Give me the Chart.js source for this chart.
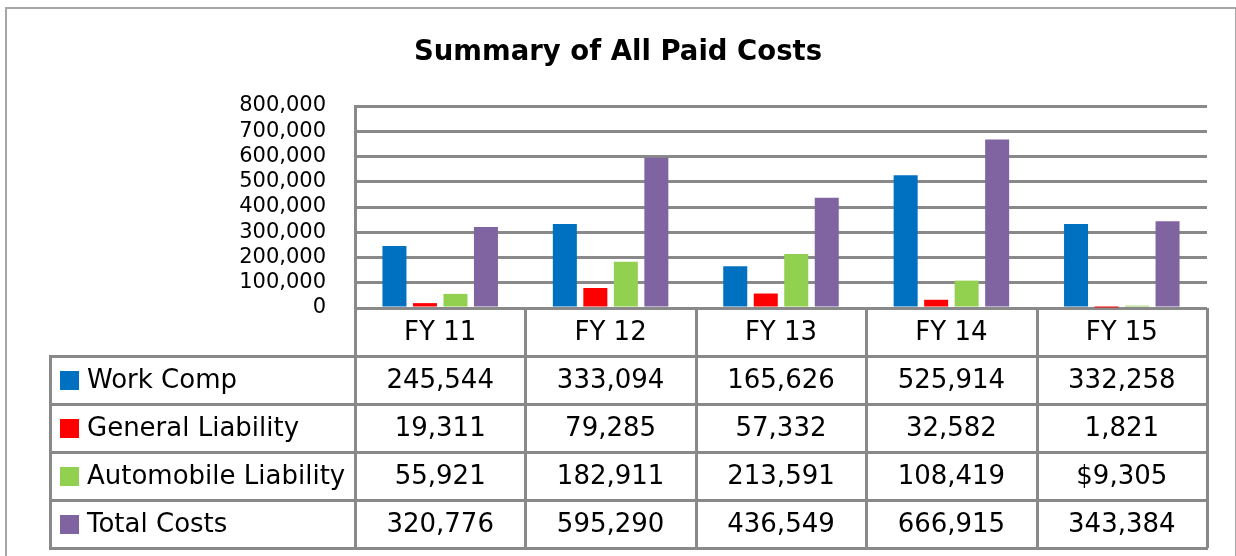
<!DOCTYPE html>
<html>
<head>
<meta charset="utf-8">
<script src="https://cdn.jsdelivr.net/npm/chart.js@4"></script>
<style>
    html, body { margin: 0; padding: 0; background: #fff; }
    #wrap { position: relative; width: 1236px; height: 556px; overflow: hidden; }
    #frame { position: absolute; left: 5px; top: 7px; width: 1228px; height: 600px; border: 2px solid #a6a6a6; pointer-events: none; }
    canvas { position: absolute; left: 0; top: 0; }
</style>
</head>
<body>
<div id="wrap">
    <canvas id="costChart" width="1236" height="556"></canvas>
    <div id="frame"></div>
</div>
<script>
const categories = ['FY 11', 'FY 12', 'FY 13', 'FY 14', 'FY 15'];
const seriesNames = ['Work Comp', 'General Liability', 'Automobile Liability', 'Total Costs'];
const workComp = [245544, 333094, 165626, 525914, 332258];
const generalLiability = [19311, 79285, 57332, 32582, 1821];
const automobileLiability = [55921, 182911, 213591, 108419, 9305];
const totalCosts = [320776, 595290, 436549, 666915, 343384];
const yTicks = [0, 100000, 200000, 300000, 400000, 500000, 600000, 700000, 800000];
// the one table cell that the source shows with a dollar sign
const dollarCells = [[2, 4]];

const seriesColors = ['#0070C0', '#FF0000', '#92D050', '#8064A2'];
const GRID = '#898989';
const FONT = '"DejaVu Sans", "Open Sans", sans-serif';

function fmt(v) {
    return v.toLocaleString('en-US');
}

// draws the Excel-style data table under the plot, using the x scale for the columns
const dataTablePlugin = {
    id: 'dataTable',
    afterDraw(chart) {
        const ctx = chart.ctx;
        const xs = chart.scales.x;
        const area = chart.chartArea;
        const n = categories.length;
        const colW = (xs.right - xs.left) / n;
        const rowH = 48;
        const top = area.bottom;
        const headBottom = top + rowH;
        const labelLeft = 50;
        const bottom = headBottom + rowH * chart.data.datasets.length;

        ctx.save();
        ctx.strokeStyle = GRID;
        ctx.lineWidth = 3;
        ctx.beginPath();
        for (let k = 0; k <= n; k++) {
            const x = Math.round(xs.left + k * colW) + 0.5;
            ctx.moveTo(x, top);
            ctx.lineTo(x, bottom);
        }
        ctx.moveTo(labelLeft + 0.5, headBottom);
        ctx.lineTo(labelLeft + 0.5, bottom);
        for (let r = 0; r <= chart.data.datasets.length; r++) {
            const y = headBottom + r * rowH + 0.5;
            ctx.moveTo(labelLeft - 1, y);
            ctx.lineTo(xs.right + 1, y);
        }
        ctx.stroke();

        ctx.fillStyle = '#000';
        ctx.font = '26px ' + FONT;
        ctx.textAlign = 'center';
        ctx.textBaseline = 'middle';
        categories.forEach((c, i) => {
            ctx.fillText(c, xs.getPixelForTick(i), top + rowH / 2 + 1);
        });

        chart.data.datasets.forEach((ds, r) => {
            const cy = headBottom + r * rowH + rowH / 2 + 1;
            ctx.fillStyle = ds.backgroundColor;
            ctx.fillRect(60, Math.round(cy - 10), 19, 19);
            ctx.fillStyle = '#000';
            ctx.textAlign = 'left';
            ctx.fillText(ds.label, 87, cy);
            ctx.textAlign = 'center';
            ds.data.forEach((v, i) => {
                const dollar = dollarCells.some(d => d[0] === r && d[1] === i);
                ctx.fillText((dollar ? '$' : '') + fmt(v), xs.getPixelForTick(i), cy);
            });
        });
        ctx.restore();
    }
};

const seriesData = [workComp, generalLiability, automobileLiability, totalCosts];

new Chart(document.getElementById('costChart'), {
    type: 'bar',
    data: {
        labels: categories,
        datasets: seriesNames.map((name, i) => ({
            label: name,
            data: seriesData[i],
            backgroundColor: seriesColors[i],
            borderWidth: 0,
            categoryPercentage: 0.716,
            barPercentage: 0.787
        }))
    },
    options: {
        responsive: false,
        animation: false,
        devicePixelRatio: 1,
        layout: { padding: { left: 29, right: 29, top: 0, bottom: 0 } },
        plugins: {
            legend: { display: false },
            tooltip: { enabled: false },
            title: {
                display: true,
                text: 'Summary of All Paid Costs',
                color: '#000',
                font: { family: FONT, size: 27.5, weight: 'bold' },
                padding: { top: 36, bottom: 37 }
            }
        },
        scales: {
            x: {
                grid: { display: false },
                border: { display: false },
                ticks: { display: false },
                afterFit: s => { s.height = 248; }
            },
            y: {
                min: 0,
                max: 800000,
                afterBuildTicks: s => { s.ticks = yTicks.map(v => ({ value: v })); },
                grid: { color: GRID, lineWidth: 3, drawTicks: false },
                border: { display: true, color: GRID, width: 3 },
                ticks: {
                    color: '#000',
                    padding: 29,
                    autoSkip: false,
                    font: { family: FONT, size: 21 },
                    callback: v => fmt(v)
                },
                afterFit: s => { s.width = 326; }
            }
        }
    },
    plugins: [dataTablePlugin]
});
</script>
</body>
</html>
